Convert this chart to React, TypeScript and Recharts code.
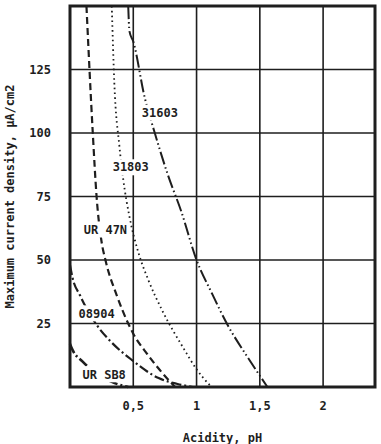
import {
  CartesianGrid,
  Line,
  LineChart,
  ReferenceArea,
  ReferenceDot,
  XAxis,
  YAxis,
} from 'recharts';

// pH / current density pairs
const ph31603 = [0.46, 0.47, 0.5, 0.59, 0.67, 0.77, 0.88, 1.0, 1.12, 1.25, 1.4, 1.56];
const val31603 = [150, 140, 136, 114, 100, 84, 69, 50, 37, 24, 12, 0];

const ph31803 = [0.33, 0.35, 0.39, 0.42, 0.47, 0.54, 0.62, 0.73, 0.9, 1.0, 1.09, 1.12];
const val31803 = [150, 120, 95, 82, 67, 53, 42, 30, 15, 7, 1.5, 0];

const phUR47N = [0.13, 0.18, 0.21, 0.25, 0.28, 0.37, 0.46, 0.5, 0.61, 0.73, 0.83];
const valUR47N = [150, 100, 75, 57, 50, 36, 25, 21, 13, 5.5, 0];

const ph08904 = [0.0, 0.02, 0.08, 0.21, 0.32, 0.49, 0.7, 0.85, 0.97];
const val08904 = [48, 43, 36, 24.5, 18, 10.6, 3.5, 1.2, 0];

const phURSB8 = [0.0, 0.02, 0.1, 0.33, 0.46];
const valURSB8 = [17, 14.6, 10, 2, 0];

const curveNames = ['31603', '31803', 'UR 47N', '08904', 'UR SB8'];
const labelPh = [0.71, 0.48, 0.28, 0.21, 0.27];
const labelVal = [108, 86.5, 62, 29, 5];

const xTicks = [0, 0.5, 1, 1.5, 2];
const yTicks = [0, 25, 50, 75, 100, 125, 150];

const toPoints = (ph: number[], val: number[]) => ph.map((p, i) => ({ ph: p, v: val[i] }));

const series = [
  { name: curveNames[0], data: toPoints(ph31603, val31603), dash: '13 3 1.5 3 1.5 3', width: 2 },
  { name: curveNames[1], data: toPoints(ph31803, val31803), dash: '1.6 3.2', width: 1.8 },
  { name: curveNames[2], data: toPoints(phUR47N, valUR47N), dash: '7 4', width: 2.2 },
  { name: curveNames[3], data: toPoints(ph08904, val08904), dash: '10 3 2 3', width: 2.2 },
  { name: curveNames[4], data: toPoints(phURSB8, valURSB8), dash: '10 3 2 3', width: 2.6 },
];

const INK = '#1e1e1e';
const FONT = '"DejaVu Sans Mono", "Liberation Mono", monospace';

const formatPh = (v: number) => (v === 0 ? '' : String(v).replace('.', ','));
const formatVal = (v: number) => (v === 0 || v === 150 ? '' : String(v));

const CurveLabel = ({ cx, cy, text }: { cx?: number; cy?: number; text: string }) => {
  if (cx === undefined || cy === undefined) return null;
  const w = text.length * 7.3 + 4;
  return (
    <g>
      <rect x={cx - w / 2} y={cy - 8} width={w} height={16} fill="#fff" />
      <text
        x={cx}
        y={cy}
        dy="0.35em"
        textAnchor="middle"
        fontFamily={FONT}
        fontSize={12}
        fontWeight="bold"
        fill={INK}
      >
        {text}
      </text>
    </g>
  );
};

export default function App() {
  return (
    <div style={{ position: 'absolute', left: 0, top: 0, width: 381, height: 444, background: '#fff' }}>
      <LineChart width={381} height={444} margin={{ top: 6, right: 6, bottom: 0, left: 0 }}>
        <CartesianGrid stroke={INK} strokeWidth={1.6} />
        <XAxis
          type="number"
          dataKey="ph"
          domain={[0, 2.41]}
          ticks={xTicks}
          tickFormatter={formatPh}
          axisLine={false}
          tickLine={false}
          tickSize={0}
          tickMargin={14}
          height={57}
          allowDuplicatedCategory={false}
          tick={{ fontFamily: FONT, fontSize: 12, fontWeight: 'bold', fill: INK }}
          label={{
            value: 'Acidity, pH',
            position: 'insideBottom',
            offset: 2,
            style: { fontFamily: FONT, fontSize: 12, fontWeight: 'bold', fill: INK },
          }}
        />
        <YAxis
          type="number"
          dataKey="v"
          domain={[0, 150]}
          ticks={yTicks}
          tickFormatter={formatVal}
          axisLine={false}
          tickLine={false}
          tickSize={0}
          tickMargin={19}
          width={70}
          tick={{ fontFamily: FONT, fontSize: 12, fontWeight: 'bold', fill: INK }}
          label={{
            value: 'Maximum current density, µA/cm2',
            angle: -90,
            position: 'insideLeft',
            offset: 10,
            style: { textAnchor: 'middle', fontFamily: FONT, fontSize: 12, fontWeight: 'bold', fill: INK },
          }}
        />
        <ReferenceArea x1={0} x2={2.41} y1={0} y2={150} fill="none" stroke={INK} strokeWidth={3} />
        {series.map((s) => (
          <Line
            key={s.name}
            data={s.data}
            dataKey="v"
            type="monotone"
            stroke={INK}
            strokeWidth={s.width}
            strokeDasharray={s.dash}
            dot={false}
            activeDot={false}
            isAnimationActive={false}
          />
        ))}
        {curveNames.map((name, i) => (
          <ReferenceDot
            key={name}
            x={labelPh[i]}
            y={labelVal[i]}
            r={0}
            shape={(props: { cx?: number; cy?: number }) => <CurveLabel cx={props.cx} cy={props.cy} text={name} />}
          />
        ))}
      </LineChart>
    </div>
  );
}
